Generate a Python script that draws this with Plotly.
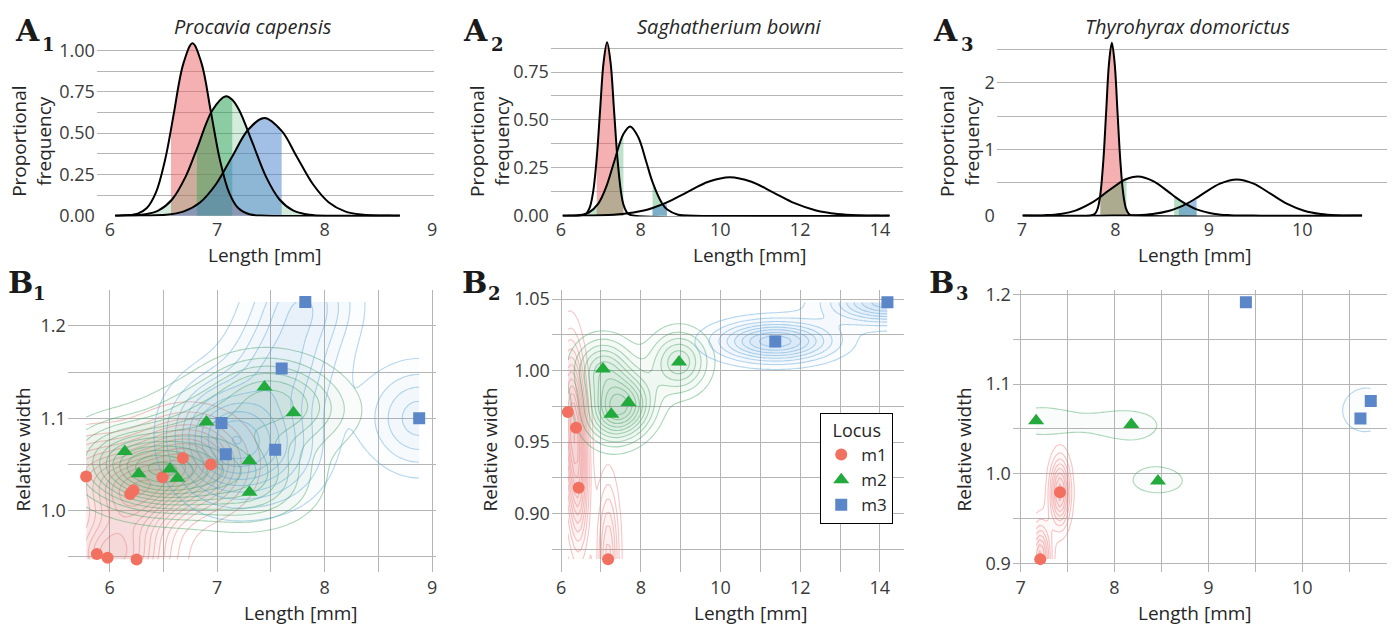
import numpy as np
import plotly.graph_objects as go

W, H = 1398, 637

# ---------------- Panel A: proportional frequency curves ----------------
a1_m1_x = [6.05, 6.09, 6.26, 6.345, 6.43, 6.515, 6.57, 6.60, 6.685, 6.77, 6.855, 6.94, 7.025, 7.11, 7.195, 7.30, 7.45, 8.70]
a1_m1_y = [0, 0.000, 0.012, 0.046, 0.141, 0.339, 0.523, 0.634, 0.922, 1.045, 0.922, 0.634, 0.339, 0.141, 0.046, 0.008, 0.000, 0]
a1_m2_x = [6.05, 6.08, 6.33, 6.455, 6.58, 6.705, 6.81, 6.955, 7.08, 7.14, 7.205, 7.33, 7.455, 7.58, 7.705, 7.83, 7.90, 8.08, 8.70]
a1_m2_y = [0, 0.000, 0.008, 0.032, 0.098, 0.235, 0.404, 0.639, 0.724, 0.703, 0.639, 0.439, 0.235, 0.098, 0.032, 0.008, 0.003, 0.000, 0]
a1_m3_x = [6.05, 6.24, 6.57, 6.69, 6.84, 6.99, 7.14, 7.29, 7.44, 7.60, 7.74, 7.89, 8.04, 8.19, 8.34, 8.64, 8.70]
a1_m3_y = [0, 0.000, 0.009, 0.026, 0.080, 0.192, 0.359, 0.522, 0.592, 0.514, 0.359, 0.192, 0.080, 0.026, 0.007, 0.000, 0]
a1_m1_fill = [(6.57, 7.30, 0.50)]
a1_m2_fill = [(6.08, 8.08, 0.20), (6.81, 7.14, 0.42)]
a1_m3_fill = [(6.57, 7.60, 0.50)]

a2_m1_x = [6.05, 6.46, 6.635, 6.7225, 6.81, 6.90, 6.985, 7.0725, 7.16, 7.2475, 7.335, 7.4225, 7.51, 7.57, 7.685, 7.86, 14.24]
a2_m1_y = [0, 0.000, 0.010, 0.040, 0.123, 0.300, 0.550, 0.800, 0.906, 0.800, 0.550, 0.294, 0.123, 0.058, 0.010, 0.000, 0]
a2_m2_x = [6.05, 6.14, 6.54, 6.70, 6.94, 7.14, 7.34, 7.57, 7.74, 7.94, 8.14, 8.30, 8.54, 8.66, 8.94, 9.34, 14.24]
a2_m2_y = [0, 0.000, 0.005, 0.016, 0.063, 0.151, 0.283, 0.426, 0.466, 0.411, 0.283, 0.175, 0.063, 0.033, 0.005, 0.000, 0]
a2_m3_x = [6.05, 6.46, 7.00, 7.54, 8.08, 8.30, 8.66, 9.16, 9.70, 10.24, 10.78, 11.32, 11.86, 12.40, 12.94, 13.48, 14.02, 14.24]
a2_m3_y = [0, 0.000, 0.002, 0.009, 0.027, 0.040, 0.069, 0.122, 0.177, 0.201, 0.177, 0.122, 0.065, 0.027, 0.009, 0.002, 0.000, 0]
a2_m1_fill = [(6.90, 7.57, 0.50)]
a2_m2_fill = [(6.70, 7.57, 0.30), (8.30, 8.66, 0.35)]
a2_m3_fill = [(8.30, 8.66, 0.50)]

a3_m1_x = [7.01, 7.723, 7.783, 7.813, 7.84, 7.873, 7.903, 7.933, 7.963, 7.993, 8.023, 8.053, 8.083, 8.113, 8.143, 8.16, 8.203, 10.64]
a3_m1_y = [0, 0.000, 0.029, 0.114, 0.319, 0.846, 1.581, 2.300, 2.606, 2.300, 1.581, 0.846, 0.353, 0.114, 0.029, 0.012, 0.001, 0]
a3_m2_x = [7.01, 7.25, 7.415, 7.58, 7.745, 7.84, 7.91, 8.075, 8.12, 8.24, 8.405, 8.57, 8.63, 8.735, 8.87, 9.065, 9.23, 9.56, 10.64]
a3_m2_y = [0.001, 0.007, 0.026, 0.080, 0.192, 0.283, 0.358, 0.521, 0.552, 0.590, 0.521, 0.358, 0.293, 0.192, 0.095, 0.026, 0.007, 0.000, 0]
a3_m3_x = [7.01, 7.86, 8.22, 8.40, 8.58, 8.68, 8.76, 8.87, 8.94, 9.12, 9.30, 9.48, 9.66, 9.84, 10.02, 10.20, 10.38, 10.64]
a3_m3_y = [0, 0.000, 0.006, 0.024, 0.074, 0.124, 0.177, 0.268, 0.331, 0.482, 0.546, 0.482, 0.331, 0.177, 0.074, 0.024, 0.006, 0.001]
a3_m1_fill = [(7.84, 8.16, 0.50)]
a3_m2_fill = [(7.84, 8.12, 0.35), (8.63, 8.87, 0.35)]
a3_m3_fill = [(8.68, 8.87, 0.50)]

b1_m1_x = [5.78, 5.88, 5.98, 6.19, 6.22, 6.25, 6.49, 6.68, 6.94]
b1_m1_y = [1.037, 0.953, 0.949, 1.018, 1.022, 0.947, 1.036, 1.057, 1.050]
b1_m2_x = [6.14, 6.27, 6.56, 6.63, 6.90, 7.30, 7.30, 7.44, 7.71]
b1_m2_y = [1.064, 1.040, 1.045, 1.035, 1.096, 1.054, 1.020, 1.134, 1.106]
b1_m3_x = [7.82, 7.60, 7.04, 7.08, 7.54, 8.88]
b1_m3_y = [1.226, 1.154, 1.095, 1.061, 1.066, 1.100]

b2_m1_x = [6.17, 6.375, 6.44, 7.18]
b2_m1_y = [0.971, 0.960, 0.918, 0.868]
b2_m2_x = [7.05, 7.26, 7.69, 8.96]
b2_m2_y = [1.001, 0.9695, 0.9776, 1.006]
b2_m3_x = [11.375, 14.19]
b2_m3_y = [1.0204, 1.0478]

b3_m1_x = [7.42, 7.21]
b3_m1_y = [0.9795, 0.905]
b3_m2_x = [7.166, 8.18, 8.464]
b3_m2_y = [1.059, 1.055, 0.992]
b3_m3_x = [9.40, 10.73, 10.62]
b3_m3_y = [1.191, 1.081, 1.0615]

loci = ["m1", "m2", "m3"]
species = ["Procavia capensis", "Saghatherium bowni", "Thyrohyrax domorictus"]
b_bins = [20, 15, 10]   # number of contour bins per B panel

# ---------------- styling ----------------
PT_COL = {"m1": "#F2705F", "m2": "#22AA3C", "m3": "#5B86C8"}
PT_SYM = {"m1": "circle", "m2": "triangle-up", "m3": "square"}
PT_SIZE = {"m1": 12, "m2": 14, "m3": 12}
FILL_RGB = {"m1": (235, 100, 100), "m2": (40, 160, 80), "m3": (70, 130, 205)}
CONT_RGB = {"m1": (236, 120, 120), "m2": (60, 160, 90), "m3": (80, 160, 215)}
GRID = "#b5b5b5"
FONT = "Open Sans"
TICK_FONT = dict(family=FONT, size=18, color="#3a3a3a")

fig = go.Figure()

# ---------- A panels ----------
A_data = [
    [(a1_m1_x, a1_m1_y, a1_m1_fill), (a1_m2_x, a1_m2_y, a1_m2_fill), (a1_m3_x, a1_m3_y, a1_m3_fill)],
    [(a2_m1_x, a2_m1_y, a2_m1_fill), (a2_m2_x, a2_m2_y, a2_m2_fill), (a2_m3_x, a2_m3_y, a2_m3_fill)],
    [(a3_m1_x, a3_m1_y, a3_m1_fill), (a3_m2_x, a3_m2_y, a3_m2_fill), (a3_m3_x, a3_m3_y, a3_m3_fill)],
]
for p, panel in enumerate(A_data):
    xa = "x" if p == 0 else f"x{p+1}"
    ya = "y" if p == 0 else f"y{p+1}"
    for loc, (xs, ys, fills) in zip(loci, panel):
        r, g, b = FILL_RGB[loc]
        for lo, hi, al in fills:
            sx = [x for x in xs if lo - 1e-9 <= x <= hi + 1e-9]
            sy = [y for x, y in zip(xs, ys) if lo - 1e-9 <= x <= hi + 1e-9]
            fig.add_trace(go.Scatter(x=sx, y=sy, mode="lines", fill="tozeroy",
                                     fillcolor=f"rgba({r},{g},{b},{al})",
                                     line=dict(width=0, shape="spline"),
                                     hoverinfo="skip", showlegend=False, xaxis=xa, yaxis=ya))
    for loc, (xs, ys, fills) in zip(loci, panel):
        fig.add_trace(go.Scatter(x=xs, y=ys, mode="lines", cliponaxis=False,
                                 line=dict(color="black", width=2, shape="spline"),
                                 hoverinfo="skip", showlegend=False, xaxis=xa, yaxis=ya))

# ---------- B panels: 2D kernel density (MASS::kde2d style) + points ----------
def bw_nrd(v):
    v = np.asarray(v, float)
    q25, q75 = np.percentile(v, [25, 75])
    h = (q75 - q25) / 1.34
    s = np.std(v, ddof=1)
    m = min(s, h) if h > 0 else s
    return 4 * 1.06 * m * len(v) ** (-0.2)

def kde2d(x, y, lims, n=100):
    x = np.asarray(x, float); y = np.asarray(y, float)
    gx = np.linspace(lims[0], lims[1], n)
    gy = np.linspace(lims[2], lims[3], n)
    hx = bw_nrd(x) / 4
    hy = bw_nrd(y) / 4
    ax = (gx[:, None] - x[None, :]) / hx
    ay = (gy[:, None] - y[None, :]) / hy
    dx = np.exp(-0.5 * ax ** 2) / np.sqrt(2 * np.pi)
    dy = np.exp(-0.5 * ay ** 2) / np.sqrt(2 * np.pi)
    z = dx @ dy.T / (len(x) * hx * hy)
    return gx, gy, z.T

def pretty(lo, hi, n=10):
    cell = (hi - lo) / n
    base = 10 ** np.floor(np.log10(cell))
    unit = base
    h, h5 = 1.5, 0.5 + 1.5 * 1.5
    if 2 * base - cell < h * (cell - unit):
        unit = 2 * base
        if 5 * base - cell < h5 * (cell - unit):
            unit = 5 * base
            if 10 * base - cell < h * (cell - unit):
                unit = 10 * base
    ns = np.floor(lo / unit + 1e-7)
    nu = np.ceil(hi / unit - 1e-7)
    return np.arange(ns, nu + 1) * unit, unit

B_data = [
    [(b1_m1_x, b1_m1_y), (b1_m2_x, b1_m2_y), (b1_m3_x, b1_m3_y)],
    [(b2_m1_x, b2_m1_y), (b2_m2_x, b2_m2_y), (b2_m3_x, b2_m3_y)],
    [(b3_m1_x, b3_m1_y), (b3_m2_x, b3_m2_y), (b3_m3_x, b3_m3_y)],
]
for p, panel in enumerate(B_data):
    xa, ya = f"x{p+4}", f"y{p+4}"
    allx = np.concatenate([np.asarray(a, float) for a, _ in panel])
    ally = np.concatenate([np.asarray(b, float) for _, b in panel])
    lims = (allx.min(), allx.max(), ally.min(), ally.max())
    dens = [kde2d(xs, ys, lims) for xs, ys in panel]
    zmin = min(d[2].min() for d in dens)
    zmax = max(d[2].max() for d in dens)
    brks, step = pretty(zmin, zmax, b_bins[p])
    brks = brks[(brks > zmin) & (brks < zmax)]
    for loc, (gx, gy, z) in zip(loci, dens):
        lv = brks[brks < z.max()]
        if len(lv) == 0:
            continue
        r, g, b = CONT_RGB[loc]
        f0 = min(lv[0] / zmax, 0.98)
        f1 = min(1.4 * lv[0] / zmax, 0.99)
        t = f"rgba({r},{g},{b},0)"
        a = f"rgba({r},{g},{b},0.03)"
        # faint tint inside the contours
        fig.add_trace(go.Contour(x=gx, y=gy, z=z, autocontour=False, zauto=False, zmin=0, zmax=zmax,
                                 contours=dict(start=lv[0], end=lv[-1], size=step, coloring="fill", showlines=False),
                                 colorscale=[[0, t], [f0, t], [f1, a], [1, a]],
                                 showscale=False, line=dict(width=0), hoverinfo="skip",
                                 showlegend=False, xaxis=xa, yaxis=ya))
        c = f"rgba({r},{g},{b},0.42)"
        fig.add_trace(go.Contour(x=gx, y=gy, z=z, autocontour=False,
                                 contours=dict(start=lv[0], end=lv[-1], size=step, coloring="lines"),
                                 colorscale=[[0, c], [1, c]], showscale=False,
                                 line=dict(width=1.1, smoothing=1), hoverinfo="skip",
                                 showlegend=False, xaxis=xa, yaxis=ya))
    for loc, (xs, ys) in zip(loci, panel):
        fig.add_trace(go.Scatter(x=xs, y=ys, mode="markers", name=loc, legendgroup=loc,
                                 showlegend=(p == 1),
                                 marker=dict(symbol=PT_SYM[loc], size=PT_SIZE[loc], color=PT_COL[loc],
                                             line=dict(width=0)),
                                 hoverinfo="skip", xaxis=xa, yaxis=ya))

# ---------- axes ----------
def xaxis(left, right, rng, dtick, minor, grid, anchor, standoff):
    d = dict(domain=[left / W, right / W], range=rng, dtick=dtick, tick0=0,
             showgrid=grid, gridcolor=GRID, gridwidth=1.3, zeroline=False, showline=False,
             ticks="", tickfont=TICK_FONT, anchor=anchor, ticklabelstandoff=standoff, fixedrange=True)
    if grid:
        d["minor"] = dict(dtick=minor, tick0=0, showgrid=True, gridcolor=GRID, gridwidth=1.3)
    return d

def yaxis(top, bottom, rng, dtick, minor, fmt, anchor):
    return dict(domain=[1 - bottom / H, 1 - top / H], range=rng, dtick=dtick, tick0=0,
                tickformat=fmt, showgrid=True, gridcolor=GRID, gridwidth=1.3, zeroline=False,
                showline=False, ticks="", tickfont=TICK_FONT, anchor=anchor, ticklabelstandoff=1,
                minor=dict(dtick=minor, tick0=0, showgrid=True, gridcolor=GRID, gridwidth=1.3),
                fixedrange=True)

layout_axes = dict(
    xaxis=xaxis(97, 435, [5.879, 9.019], 1, 0.5, False, "y", 0),
    yaxis=yaxis(33, 214, [-0.0059, 1.0588], 0.25, 0.125, ".2f", "x"),
    xaxis2=xaxis(552, 905, [5.750, 14.58], 2, 1, False, "y2", 0),
    yaxis2=yaxis(33, 214, [-0.0051, 0.912], 0.25, 0.125, ".2f", "x2"),
    xaxis3=xaxis(999, 1390, [6.733, 10.907], 1, 0.5, False, "y3", 0),
    yaxis3=yaxis(33, 214, [-0.0146, 2.633], 1, 0.5, "d", "x3"),
    xaxis4=xaxis(68, 437, [5.610, 9.037], 1, 0.5, True, "y4", 3),
    yaxis4=yaxis(290, 580, [0.9338, 1.2386], 0.1, 0.05, ".1f", "x4"),
    xaxis5=xaxis(553, 906, [5.767, 14.607], 2, 1, True, "y5", 3),
    yaxis5=yaxis(290, 580, [0.8593, 1.0561], 0.05, 0.025, ".2f", "x5"),
    xaxis6=xaxis(1015, 1390, [6.918, 10.903], 1, 0.5, True, "y6", 3),
    yaxis6=yaxis(290, 580, [0.8910, 1.2043], 0.1, 0.05, ".1f", "x6"),
)

# ---------- annotations ----------
ann = []
def txt(s, px, py, size=19, angle=0, family=FONT, color="#262626", xanchor="center"):
    ann.append(dict(text=s, x=px / W, y=1 - py / H, xref="paper", yref="paper", showarrow=False,
                    xanchor=xanchor, yanchor="middle", textangle=angle,
                    font=dict(family=family, size=size, color=color)))

for cx, name in zip([254, 731, 1190], species):
    txt(f"<i>{name}</i>", cx, 18, size=20)
for cx in [266, 752, 1198]:
    txt("Length [mm]", cx, 254)
for cx in [302, 753, 1198]:
    txt("Length [mm]", cx, 623)
for cx in [32, 491, 962]:
    txt("Proportional<br>frequency", cx, 136, angle=-90)
for cx in [24, 492, 967]:
    txt("Relative width", cx, 454, angle=-90)

SERIF = "DejaVu Serif"
for (cx, sx), k in zip([(28, 49), (477, 499), (948, 970)], ["1", "2", "3"]):
    txt("<b>A</b>", cx, 22, size=30, family=SERIF, color="#1a1a1a")
    txt(f"<b>{k}</b>", sx, 37, size=18, family=SERIF, color="#1a1a1a")
for (cx, sx), k in zip([(21, 40), (476, 496), (944, 965)], ["1", "2", "3"]):
    txt("<b>B</b>", cx, 282, size=30, family=SERIF, color="#1a1a1a")
    txt(f"<b>{k}</b>", sx, 293, size=18, family=SERIF, color="#1a1a1a")

fig.update_layout(
    width=W, height=H, margin=dict(l=0, r=0, t=0, b=0),
    paper_bgcolor="white", plot_bgcolor="white",
    annotations=ann,
    legend=dict(x=822 / W, y=1 - 416 / H, xanchor="left", yanchor="top",
                bgcolor="white", bordercolor="black", borderwidth=1,
                font=dict(family=FONT, size=17, color="#262626"),
                title=dict(text="Locus", side="top center", font=dict(family=FONT, size=18, color="#262626")),
                tracegroupgap=0, itemsizing="trace", itemwidth=30),
    **layout_axes,
)

fig.write_html("out.html", config={"displayModeBar": False},
               post_script="document.body.style.margin='0px';document.body.style.padding='0px';")
